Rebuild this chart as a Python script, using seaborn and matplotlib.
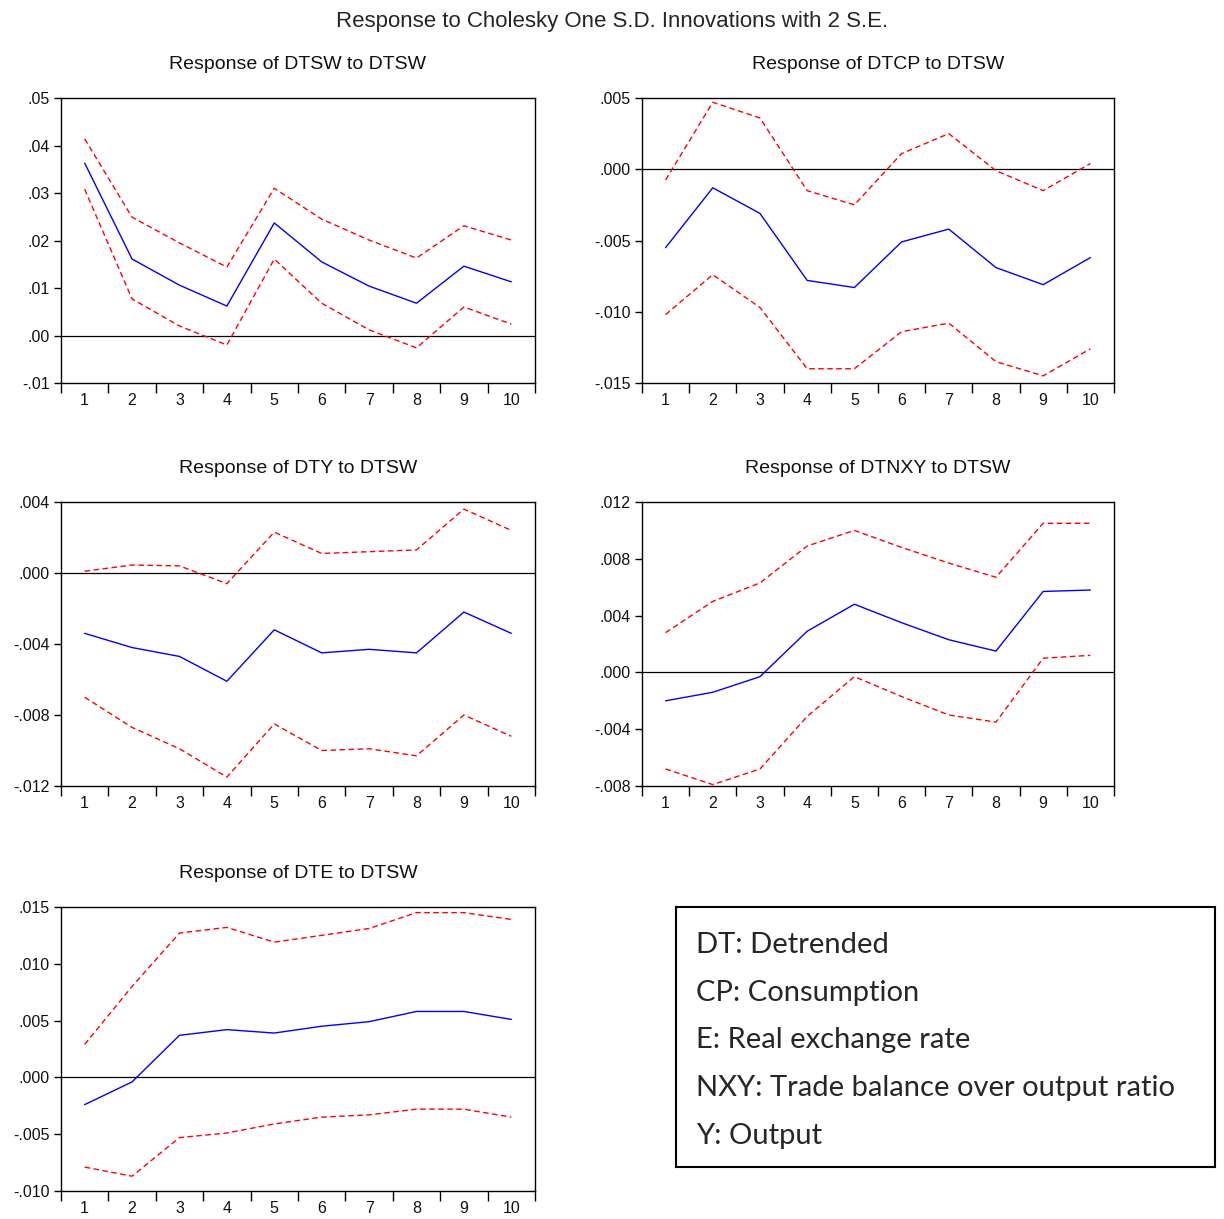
import pandas as pd
import matplotlib.pyplot as plt
import seaborn as sns
import numpy as np

# Periods after the shock
periods = list(range(1, 11))

# Response of DTSW to DTSW
dtsw_resp = [0.0363, 0.0161, 0.0106, 0.0062, 0.0237, 0.0155, 0.0104, 0.0068, 0.0146, 0.0113]
dtsw_upper = [0.0414, 0.0249, 0.0195, 0.0144, 0.0310, 0.0245, 0.0201, 0.0163, 0.0231, 0.0201]
dtsw_lower = [0.0308, 0.0077, 0.0020, -0.0020, 0.0161, 0.0068, 0.0012, -0.0026, 0.0060, 0.0024]

# Response of DTCP to DTSW
dtcp_resp = [-0.0055, -0.0013, -0.0031, -0.0078, -0.0083, -0.0051, -0.0042, -0.0069, -0.0081, -0.0062]
dtcp_upper = [-0.00075, 0.0047, 0.0036, -0.0015, -0.0025, 0.0011, 0.0025, -0.0001, -0.0015, 0.0004]
dtcp_lower = [-0.0102, -0.0074, -0.0097, -0.0140, -0.0140, -0.0114, -0.0108, -0.0135, -0.0145, -0.0126]

# Response of DTY to DTSW
dty_resp = [-0.0034, -0.0042, -0.0047, -0.0061, -0.0032, -0.0045, -0.0043, -0.0045, -0.0022, -0.0034]
dty_upper = [0.0001, 0.00045, 0.0004, -0.0006, 0.0023, 0.0011, 0.0012, 0.0013, 0.0036, 0.0024]
dty_lower = [-0.0070, -0.0087, -0.0099, -0.0115, -0.0085, -0.0100, -0.0099, -0.0103, -0.0080, -0.0092]

# Response of DTNXY to DTSW
dtnxy_resp = [-0.0020, -0.0014, -0.0003, 0.0029, 0.0048, 0.0035, 0.0023, 0.0015, 0.0057, 0.0058]
dtnxy_upper = [0.0028, 0.0050, 0.0063, 0.0089, 0.0100, 0.0088, 0.0077, 0.0067, 0.0105, 0.0105]
dtnxy_lower = [-0.0068, -0.0079, -0.0068, -0.0031, -0.0003, -0.0017, -0.0030, -0.0035, 0.0010, 0.0012]

# Response of DTE to DTSW
dte_resp = [-0.0024, -0.0004, 0.0037, 0.0042, 0.0039, 0.0045, 0.0049, 0.0058, 0.0058, 0.0051]
dte_upper = [0.0029, 0.0080, 0.0127, 0.0132, 0.0119, 0.0125, 0.0131, 0.0145, 0.0145, 0.0139]
dte_lower = [-0.0079, -0.0087, -0.0053, -0.0049, -0.0041, -0.0035, -0.0033, -0.0028, -0.0028, -0.0035]

legend_lines = [
    "DT: Detrended",
    "CP: Consumption",
    "E: Real exchange rate",
    "NXY: Trade balance over output ratio",
    "Y: Output",
]

sns.set_style("white")
plt.rcParams['font.family'] = ['Liberation Sans', 'DejaVu Sans']

fig = plt.figure(figsize=(12.24, 12.19), dpi=100)

# title, response, upper, lower, y ticks, y labels, axes rect
panels = [
    ("Response of DTSW to DTSW", dtsw_resp, dtsw_upper, dtsw_lower,
     [-0.01, 0.0, 0.01, 0.02, 0.03, 0.04, 0.05],
     ["-.01", ".00", ".01", ".02", ".03", ".04", ".05"],
     [0.0498, 0.6858, 0.3873, 0.2338]),
    ("Response of DTCP to DTSW", dtcp_resp, dtcp_upper, dtcp_lower,
     [-0.015, -0.010, -0.005, 0.0, 0.005],
     ["-.015", "-.010", "-.005", ".000", ".005"],
     [0.5245, 0.6858, 0.3856, 0.2338]),
    ("Response of DTY to DTSW", dty_resp, dty_upper, dty_lower,
     [-0.012, -0.008, -0.004, 0.0, 0.004],
     ["-.012", "-.008", "-.004", ".000", ".004"],
     [0.0498, 0.3552, 0.3873, 0.2330]),
    ("Response of DTNXY to DTSW", dtnxy_resp, dtnxy_upper, dtnxy_lower,
     [-0.008, -0.004, 0.0, 0.004, 0.008, 0.012],
     ["-.008", "-.004", ".000", ".004", ".008", ".012"],
     [0.5245, 0.3552, 0.3856, 0.2330]),
    ("Response of DTE to DTSW", dte_resp, dte_upper, dte_lower,
     [-0.010, -0.005, 0.0, 0.005, 0.010, 0.015],
     ["-.010", "-.005", ".000", ".005", ".010", ".015"],
     [0.0498, 0.0230, 0.3873, 0.2330]),
]

for title, resp, upper, lower, yticks, ylabels, rect in panels:
    ax = fig.add_axes(rect)
    df = pd.DataFrame({'period': periods, 'resp': resp, 'upper': upper, 'lower': lower})

    ax.axhline(0, color='black', linewidth=0.9, zorder=1)
    sns.lineplot(data=df, x='period', y='resp', color='#0000ff', linewidth=1.0, ax=ax)
    sns.lineplot(data=df, x='period', y='upper', color='#ff0000', linewidth=1.0,
                 linestyle=(0, (4, 2.5)), ax=ax)
    sns.lineplot(data=df, x='period', y='lower', color='#ff0000', linewidth=1.0,
                 linestyle=(0, (4, 2.5)), ax=ax)

    ax.set_xlim(0.5, 10.5)
    ax.set_ylim(yticks[0], yticks[-1])
    ax.set_xticks(periods)
    ax.set_xticklabels([str(p) for p in periods])
    ax.set_xticks(np.arange(0.5, 11, 1.0), minor=True)
    ax.tick_params(axis='x', which='major', length=0, pad=7, labelsize=11.5, labelcolor='#111111')
    ax.tick_params(axis='x', which='minor', direction='out', length=7, width=1, color='black', bottom=True)
    ax.set_yticks(yticks)
    ax.set_yticklabels(ylabels)
    ax.tick_params(axis='y', which='major', direction='out', length=5, width=1, color='black',
                   left=True, labelsize=11.5, pad=3, labelcolor='#111111')
    ax.set_xlabel('')
    ax.set_ylabel('')
    for s in ax.spines.values():
        s.set_visible(True)
        s.set_color('black')
        s.set_linewidth(1.0)
    ax.set_title(title, fontsize=14, pad=21, color='#111111')

fig.suptitle("Response to Cholesky One S.D. Innovations with 2 S.E.", fontsize=16,
             family=['Liberation Sans Narrow', 'Liberation Sans', 'DejaVu Sans'], y=0.991)

# Text box with abbreviations
box = fig.add_axes([676 / 1224, 1 - 1167 / 1219, (1215 - 676) / 1224, (1167 - 907) / 1219])
box.set_xticks([])
box.set_yticks([])
for s in box.spines.values():
    s.set_visible(True)
    s.set_color('black')
    s.set_linewidth(1.5)
for i, line in enumerate(legend_lines):
    box.text(0.038, 0.855 - i * 0.184, line, transform=box.transAxes, fontsize=21,
             family=['Lato', 'DejaVu Sans'], va='center', ha='left')

fig.savefig('out.png', dpi=100)
